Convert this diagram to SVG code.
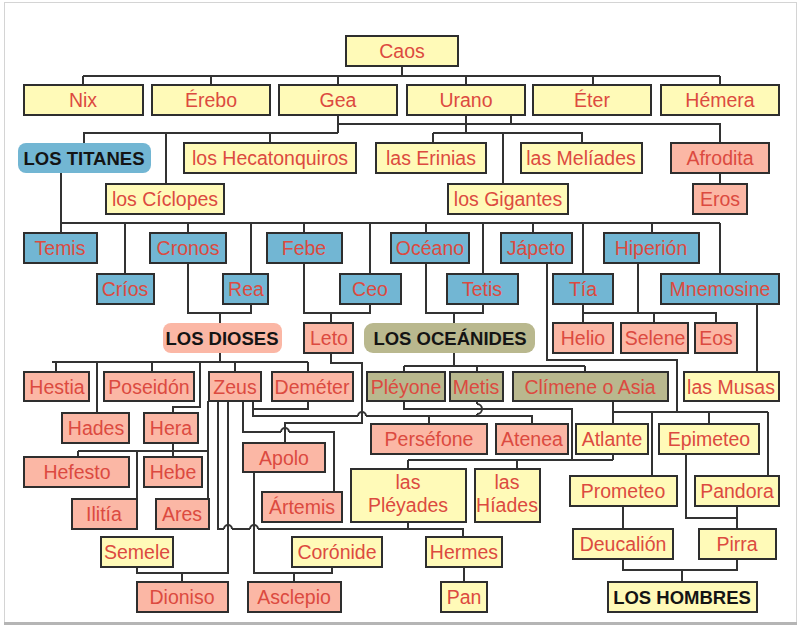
<svg xmlns="http://www.w3.org/2000/svg" width="800" height="632" viewBox="0 0 800 632">
<style>
.bx{stroke:#2e2e2e;stroke-width:2}
.y{fill:#fffab8}.p{fill:#fbb7a5}.bl{fill:#72b6d3}.o{fill:#b9b88e}
.t{font-family:"Liberation Sans",Arial,sans-serif;font-size:19.5px;fill:#dc4a40;text-anchor:middle}
.h{font-family:"Liberation Sans",Arial,sans-serif;font-weight:bold;font-size:18.5px;fill:#141414;text-anchor:middle}
#conn path{fill:none;stroke:#333;stroke-width:2}
</style>
<rect x="0" y="0" width="800" height="632" fill="#fff"/>
<rect x="4.5" y="2.5" width="792" height="620" fill="#fff" stroke="#d4d4d4" stroke-width="1"/>
<rect x="4" y="622" width="793" height="3" fill="#b5b5b5"/>
<g id="conn">
<path d="M402,66V76M83,76H720M83,76V85M211,76V85M338,76V85M466,76V85M593,76V85M720,76V85"/>
<path d="M338,115V133M466,115V133M338,124H720V143M511,115V124"/>
<path d="M83,133H338M84,133V143M166,133V184M270,133V143M433,133H582V143M433,133V143M503,133V184"/>
<path d="M720,173V184"/>
<path d="M61,173V233M61,223H720M125,223V274M188,223V233M251,223V274M304,223V233M370,223V274M426,223V233M483,223V274M533,223V233M583,223V274M652,223V233M720,223V274"/>
<path d="M188,263V313H251V304M220,313V323"/>
<path d="M304,263V313H370V304M331,313V323"/>
<path d="M426,263V313H483V304M454,313V323"/>
<path d="M638,263V313M583,304V323M583,313H716V323M654,313V323"/>
<path d="M757,304V372"/>
<path d="M547,263V360H677V412M613,412H768M613,401V424M652,412V476M709,412V424M768,412V476"/>
<path d="M686,454V518H737M737,506V529M623,506V529M623,559V570H737V559M682,570V582"/>
<path d="M454,353V366M404,366H585M404,366V372M477,366V372M585,366V372"/>
<path d="M404,401V409H572V460M613,454V460M408,460H613M408,460V469M517,460V469"/>
<path d="M477,401V404M477,414V416"/>
<path d="M220,353V362M52,362H308M56,362V372M152,362V372M97,362V413M200,362V407H173V413M235,362V372M308,362V372"/>
<path d="M173,443V451M78,451H208M78,451V457M173,451V457M137,451V499M208,401V499"/>
<path d="M218,401V529H224M232,529H250M258,529H463V537M408,522V529M464,567V582"/>
<path d="M228,401V573H137V567M182,573V582"/>
<path d="M243,401V432H281M289,432H334V492"/>
<path d="M254,472V573H332V567M294,573V582"/>
<path d="M331,353V363H362V423H285V443"/>
<path d="M253,401V416H358M366,416H532V424M429,416V424M308,401V409H253"/>
<path d="M224,529A4,4 0 0 1 232,529M250,529A4,4 0 0 1 258,529M281,432A4,4 0 0 1 289,432M358,416A4,4 0 0 1 366,416M477,404A5,5 0 0 1 477,414"/>
</g>
<g id="caos"><rect class="bx y" x="346" y="36" width="112" height="30"/><text class="t" x="402" y="58">Caos</text></g>
<g id="nix"><rect class="bx y" x="24" y="85" width="119" height="30"/><text class="t" x="83" y="107">Nix</text></g>
<g id="erebo"><rect class="bx y" x="152" y="85" width="118" height="30"/><text class="t" x="211" y="107">Érebo</text></g>
<g id="gea"><rect class="bx y" x="279" y="85" width="118" height="30"/><text class="t" x="338" y="107">Gea</text></g>
<g id="urano"><rect class="bx y" x="407" y="85" width="118" height="30"/><text class="t" x="466" y="107">Urano</text></g>
<g id="eter"><rect class="bx y" x="533" y="85" width="118" height="30"/><text class="t" x="592" y="107">Éter</text></g>
<g id="hemera"><rect class="bx y" x="661" y="85" width="118" height="30"/><text class="t" x="720" y="107">Hémera</text></g>
<g id="titanes"><rect class="bl" x="18" y="143" width="133" height="30" rx="8"/><text class="h" x="84" y="165">LOS TITANES</text></g>
<g id="hecatonquiros"><rect class="bx y" x="184" y="143" width="172" height="30"/><text class="t" x="270" y="165">los Hecatonquiros</text></g>
<g id="erinias"><rect class="bx y" x="376" y="143" width="110" height="30"/><text class="t" x="431" y="165">las Erinias</text></g>
<g id="meliades"><rect class="bx y" x="521" y="143" width="121" height="30"/><text class="t" x="581" y="165">las Melíades</text></g>
<g id="afrodita"><rect class="bx p" x="671" y="143" width="98" height="30"/><text class="t" x="720" y="165">Afrodita</text></g>
<g id="ciclopes"><rect class="bx y" x="106" y="184" width="118" height="30"/><text class="t" x="165" y="206">los Cíclopes</text></g>
<g id="gigantes"><rect class="bx y" x="448" y="184" width="120" height="30"/><text class="t" x="508" y="206">los Gigantes</text></g>
<g id="eros"><rect class="bx p" x="693" y="184" width="54" height="30"/><text class="t" x="720" y="206">Eros</text></g>
<g id="temis"><rect class="bx bl" x="24" y="233" width="73" height="30"/><text class="t" x="60" y="255">Temis</text></g>
<g id="cronos"><rect class="bx bl" x="150" y="233" width="76" height="30"/><text class="t" x="188" y="255">Cronos</text></g>
<g id="febe"><rect class="bx bl" x="267" y="233" width="75" height="30"/><text class="t" x="304" y="255">Febe</text></g>
<g id="oceano"><rect class="bx bl" x="391" y="233" width="78" height="30"/><text class="t" x="430" y="255">Océano</text></g>
<g id="japeto"><rect class="bx bl" x="501" y="233" width="71" height="30"/><text class="t" x="536" y="255">Jápeto</text></g>
<g id="hiperion"><rect class="bx bl" x="604" y="233" width="95" height="30"/><text class="t" x="651" y="255">Hiperión</text></g>
<g id="crios"><rect class="bx bl" x="97" y="274" width="57" height="30"/><text class="t" x="125" y="296">Críos</text></g>
<g id="rea"><rect class="bx bl" x="223" y="274" width="45" height="30"/><text class="t" x="246" y="296">Rea</text></g>
<g id="ceo"><rect class="bx bl" x="340" y="274" width="61" height="30"/><text class="t" x="370" y="296">Ceo</text></g>
<g id="tetis"><rect class="bx bl" x="447" y="274" width="71" height="30"/><text class="t" x="482" y="296">Tetis</text></g>
<g id="tia"><rect class="bx bl" x="553" y="274" width="60" height="30"/><text class="t" x="583" y="296">Tía</text></g>
<g id="mnemosine"><rect class="bx bl" x="661" y="274" width="118" height="30"/><text class="t" x="720" y="296">Mnemosine</text></g>
<g id="dioses"><rect class="p" x="163" y="323" width="119" height="30" rx="8"/><text class="h" x="222" y="345">LOS DIOSES</text></g>
<g id="leto"><rect class="bx p" x="304" y="323" width="49" height="30"/><text class="t" x="329" y="345">Leto</text></g>
<g id="oceanides"><rect class="o" x="364" y="323" width="171" height="30" rx="9"/><text class="h" x="450" y="345">LOS OCEÁNIDES</text></g>
<g id="helio"><rect class="bx p" x="553" y="323" width="60" height="30"/><text class="t" x="583" y="345">Helio</text></g>
<g id="selene"><rect class="bx p" x="621" y="323" width="67" height="30"/><text class="t" x="655" y="345">Selene</text></g>
<g id="eos"><rect class="bx p" x="695" y="323" width="42" height="30"/><text class="t" x="716" y="345">Eos</text></g>
<g id="hestia"><rect class="bx p" x="24" y="372" width="65" height="29"/><text class="t" x="57" y="394">Hestia</text></g>
<g id="poseidon"><rect class="bx p" x="104" y="372" width="90" height="29"/><text class="t" x="149" y="394">Poseidón</text></g>
<g id="zeus"><rect class="bx p" x="209" y="372" width="52" height="29"/><text class="t" x="235" y="394">Zeus</text></g>
<g id="demeter"><rect class="bx p" x="272" y="372" width="81" height="29"/><text class="t" x="312" y="394">Deméter</text></g>
<g id="pleyone"><rect class="bx o" x="367" y="372" width="78" height="29"/><text class="t" x="406" y="394">Pléyone</text></g>
<g id="metis"><rect class="bx o" x="450" y="372" width="53" height="29"/><text class="t" x="476" y="394">Metis</text></g>
<g id="climene"><rect class="bx o" x="513" y="372" width="155" height="29"/><text class="t" x="590" y="394">Clímene o Asia</text></g>
<g id="musas"><rect class="bx y" x="684" y="372" width="95" height="29"/><text class="t" x="731" y="394">las Musas</text></g>
<g id="hades"><rect class="bx p" x="62" y="413" width="67" height="30"/><text class="t" x="96" y="435">Hades</text></g>
<g id="hera"><rect class="bx p" x="144" y="413" width="54" height="30"/><text class="t" x="171" y="435">Hera</text></g>
<g id="persefone"><rect class="bx p" x="371" y="424" width="116" height="30"/><text class="t" x="429" y="446">Perséfone</text></g>
<g id="atenea"><rect class="bx p" x="496" y="424" width="72" height="30"/><text class="t" x="532" y="446">Atenea</text></g>
<g id="atlante"><rect class="bx y" x="576" y="424" width="72" height="30"/><text class="t" x="612" y="446">Atlante</text></g>
<g id="epimeteo"><rect class="bx y" x="659" y="424" width="100" height="30"/><text class="t" x="709" y="446">Epimeteo</text></g>
<g id="apolo"><rect class="bx p" x="243" y="443" width="82" height="29"/><text class="t" x="284" y="465">Apolo</text></g>
<g id="hefesto"><rect class="bx p" x="24" y="457" width="105" height="30"/><text class="t" x="77" y="479">Hefesto</text></g>
<g id="hebe"><rect class="bx p" x="144" y="457" width="58" height="30"/><text class="t" x="173" y="479">Hebe</text></g>
<g id="pleyades"><rect class="bx y" x="351" y="469" width="115" height="53"/><text class="t" x="408" y="489">las</text><text class="t" x="408" y="512">Pléyades</text></g>
<g id="hiades"><rect class="bx y" x="475" y="469" width="65" height="53"/><text class="t" x="507" y="489">las</text><text class="t" x="507" y="512">Híades</text></g>
<g id="prometeo"><rect class="bx y" x="570" y="476" width="107" height="30"/><text class="t" x="623" y="498">Prometeo</text></g>
<g id="pandora"><rect class="bx y" x="695" y="476" width="84" height="30"/><text class="t" x="737" y="498">Pandora</text></g>
<g id="artemis"><rect class="bx p" x="262" y="492" width="80" height="30"/><text class="t" x="302" y="514">Ártemis</text></g>
<g id="ilitia"><rect class="bx p" x="72" y="499" width="65" height="30"/><text class="t" x="104" y="521">Ilitía</text></g>
<g id="ares"><rect class="bx p" x="156" y="499" width="53" height="30"/><text class="t" x="182" y="521">Ares</text></g>
<g id="deucalion"><rect class="bx y" x="573" y="529" width="100" height="30"/><text class="t" x="623" y="551">Deucalión</text></g>
<g id="pirra"><rect class="bx y" x="699" y="529" width="77" height="30"/><text class="t" x="737" y="551">Pirra</text></g>
<g id="semele"><rect class="bx y" x="101" y="537" width="72" height="30"/><text class="t" x="137" y="559">Semele</text></g>
<g id="coronide"><rect class="bx y" x="292" y="537" width="90" height="30"/><text class="t" x="337" y="559">Corónide</text></g>
<g id="hermes"><rect class="bx y" x="426" y="537" width="76" height="30"/><text class="t" x="464" y="559">Hermes</text></g>
<g id="dioniso"><rect class="bx p" x="137" y="582" width="91" height="30"/><text class="t" x="182" y="604">Dioniso</text></g>
<g id="asclepio"><rect class="bx p" x="248" y="582" width="93" height="30"/><text class="t" x="294" y="604">Asclepio</text></g>
<g id="pan"><rect class="bx y" x="441" y="582" width="46" height="30"/><text class="t" x="464" y="604">Pan</text></g>
<g id="hombres"><rect class="bx y" x="608" y="582" width="149" height="30"/><text class="h" x="682" y="604">LOS HOMBRES</text></g>
</svg>
